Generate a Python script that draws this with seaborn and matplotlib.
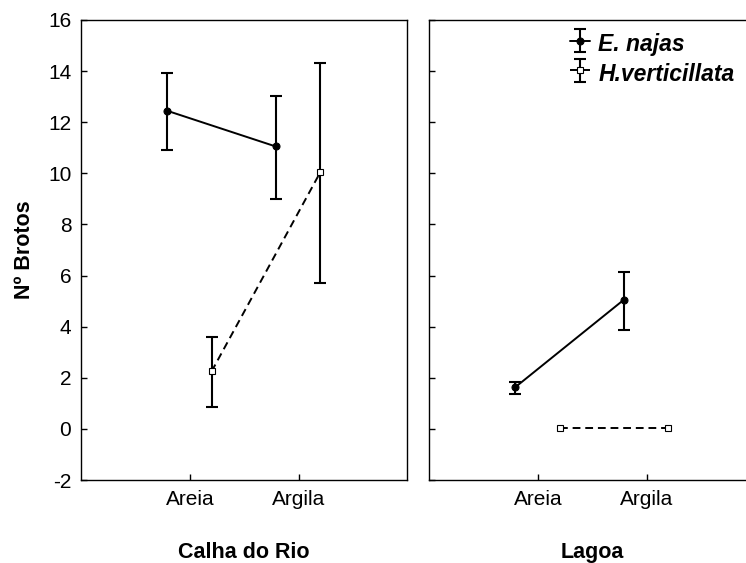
import numpy as np
import pandas as pd
import matplotlib
matplotlib.use('Agg')
import matplotlib.pyplot as plt
from matplotlib.container import ErrorbarContainer
import seaborn as sns

sites = ['Calha do Rio', 'Lagoa']
substrates = ['Areia', 'Argila']
species = ['E. najas', 'H.verticillata']

# mean, lower and upper limit of the error bar, order: Areia, Argila
najas_mean = {'Calha do Rio': [12.45, 11.05], 'Lagoa': [1.62, 5.05]}
najas_low = {'Calha do Rio': [10.92, 9.0], 'Lagoa': [1.37, 3.87]}
najas_high = {'Calha do Rio': [13.92, 13.02], 'Lagoa': [1.85, 6.15]}

verti_mean = {'Calha do Rio': [2.25, 10.05], 'Lagoa': [0.05, 0.05]}
verti_low = {'Calha do Rio': [0.85, 5.72], 'Lagoa': [0.05, 0.05]}
verti_high = {'Calha do Rio': [3.58, 14.3], 'Lagoa': [0.05, 0.05]}

y_ticks = [-2, 0, 2, 4, 6, 8, 10, 12, 14, 16]

sns.set_style('ticks')
plt.rcParams['font.family'] = ['Liberation Sans', 'DejaVu Sans']
plt.rcParams['axes.unicode_minus'] = False
plt.rcParams['text.color'] = 'k'
plt.rcParams['axes.labelcolor'] = 'k'

fig = plt.figure(figsize=(7.46, 5.63), dpi=100)
ax_l = fig.add_axes([0.1086, 0.1474, 0.4376, 0.8171])
ax_r = fig.add_axes([0.5750, 0.1474, 0.4376, 0.8171])

styles = {
    'E. najas': dict(marker='o', linestyle='-', mfc='k', ms=5),
    'H.verticillata': dict(marker='s', linestyle='--', mfc='white', ms=5),
}
offsets = {'E. najas': -0.21, 'H.verticillata': 0.2}
data = {'E. najas': (najas_mean, najas_low, najas_high),
        'H.verticillata': (verti_mean, verti_low, verti_high)}

handles = {}
for ax, site in zip([ax_l, ax_r], sites):
    for sp in species:
        mean, low, high = (np.array(d[site]) for d in data[sp])
        df = pd.DataFrame({'pos': np.arange(len(substrates)) + offsets[sp],
                           'Brotos': mean})
        st = styles[sp]
        sns.lineplot(data=df, x='pos', y='Brotos', ax=ax, color='k',
                     errorbar=None, marker=st['marker'], linestyle=st['linestyle'],
                     markerfacecolor=st['mfc'], markeredgecolor='k',
                     markersize=st['ms'], markeredgewidth=0.8, linewidth=1.4)
        line = ax.lines[-1]
        if st['linestyle'] == '--':
            line.set_dashes((4, 2.5))
        has_err = high > low
        if has_err.any():
            eb = ax.errorbar(df['pos'][has_err], mean[has_err],
                             yerr=[(mean - low)[has_err], (high - mean)[has_err]],
                             fmt='none', ecolor='k', elinewidth=1.5,
                             capsize=4.5, capthick=1.5, zorder=1)
            handles[sp] = ErrorbarContainer((line, eb[1], eb[2]), has_yerr=True, label=sp)

    ax.set_xlim(-1, 2)
    ax.set_ylim(-2, 16)
    ax.set_xticks(range(len(substrates)))
    ax.set_xticklabels(substrates)
    ax.set_yticks(y_ticks)
    ax.set_xlabel(site, fontsize=15.5, fontweight='bold', labelpad=24)
    ax.tick_params(direction='in', length=4, width=1.0, labelsize=15, pad=7,
                   colors='k')
    for s in ax.spines.values():
        s.set_color('k')
        s.set_linewidth(1.0)

ax_r.spines['right'].set_visible(False)
ax_l.set_ylabel('Nº Brotos', fontsize=15.5, fontweight='bold', labelpad=9)
ax_r.set_ylabel('')
ax_r.set_yticklabels([])

leg = ax_r.legend(handles=[handles[s] for s in species], labels=species,
                  loc='upper right', bbox_to_anchor=(1.0, 0.966),
                  bbox_transform=fig.transFigure, frameon=False, borderpad=0,
                  handlelength=0.9, handleheight=1.3, handletextpad=0.35,
                  labelspacing=0.2,
                  prop=dict(family='Liberation Sans', size=16.5, weight='bold',
                            style='italic'))

fig.savefig('out.png', dpi=100)
